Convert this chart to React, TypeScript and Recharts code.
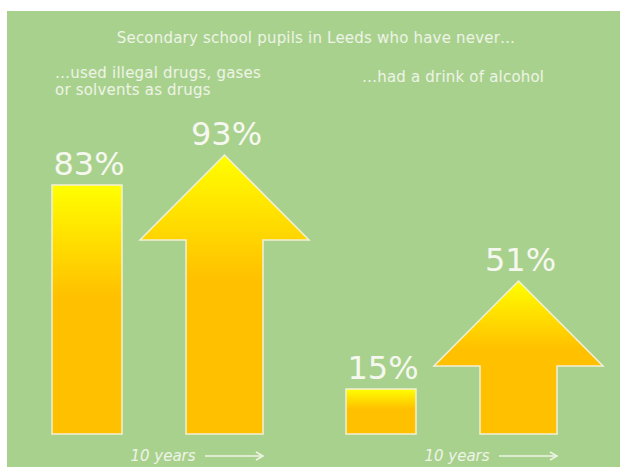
import React from "react";
import { BarChart, Bar, XAxis, YAxis, LabelList } from "recharts";

const categories = ["drugs", "alcohol"];
const beforeValues = [83, 15];
const afterValues = [93, 51];
const tickLabel = "10 years";
const chartTitle = "Secondary school pupils in Leeds who have never…";
const groupTitleDrugs = ["…used illegal drugs, gases", "or solvents as drugs"];
const groupTitleAlcohol = ["…had a drink of alcohol"];

const data = categories.map((c, i) => ({
  category: c,
  before: beforeValues[i],
  after: afterValues[i],
}));

const FONT = "'DejaVu Sans', Verdana, sans-serif";
const TEXT = "#eef4e6";
const GREEN = "#a9d18e";
const OUTLINE = "#f2f0d6";

const BarShape = (props: any) => {
  const { x, y, width, height } = props;
  return (
    <rect x={x} y={y} width={width} height={height} fill="url(#gradFill)" stroke={OUTLINE} strokeWidth={1.5} />
  );
};

const ArrowShape = (props: any) => {
  const { x, y, width, height } = props;
  const cx = x + width / 2;
  const headH = 85;
  const headHalf = 84.5;
  const shaftHalf = 38.5;
  const bottom = y + height;
  const d = `M${cx},${y} L${cx + headHalf},${y + headH} L${cx + shaftHalf},${y + headH} L${cx + shaftHalf},${bottom} L${cx - shaftHalf},${bottom} L${cx - shaftHalf},${y + headH} L${cx - headHalf},${y + headH} Z`;
  return <path d={d} fill="url(#gradFill)" stroke={OUTLINE} strokeWidth={1.5} strokeLinejoin="miter" />;
};

const renderValueLabel = (props: any) => {
  const { x, y, width, value } = props;
  return (
    <text x={x + width / 2 + 2} y={y - 10} textAnchor="middle" fontSize={32} fill="#f6f8f0" fontFamily={FONT}>
      {value}%
    </text>
  );
};

const YearsTick = (props: any) => {
  const { x } = props;
  const lineY = 456;
  const end = x + 107;
  return (
    <g>
      <line x1={x - 92} y1={lineY} x2={x - 36} y2={lineY} stroke="url(#fadeLine)" strokeWidth={1.5} />
      <text x={x + 7} y={461} textAnchor="middle" fontSize={15} fontStyle="italic" fill={TEXT} fontFamily={FONT}>
        {tickLabel}
      </text>
      <line x1={x + 49} y1={lineY} x2={end} y2={lineY} stroke={TEXT} strokeWidth={1.5} />
      <polyline points={`${end - 7},${lineY - 4} ${end},${lineY} ${end - 7},${lineY + 4}`} fill="none" stroke={TEXT} strokeWidth={1.5} />
    </g>
  );
};

export default function App() {
  return (
    <div style={{ position: "absolute", left: 0, top: 0, width: 620, height: 467, background: "#ffffff" }}>
      <div style={{ position: "absolute", left: 7, top: 11, width: 613, height: 456, background: GREEN }} />
      <div style={{ position: "absolute", left: 0, top: 0 }}>
        <BarChart
          width={620}
          height={467}
          data={data}
          margin={{ top: 134, right: 23, bottom: 0, left: 9 }}
          barSize={70}
          barGap={67.5}
        >
          <defs>
            <linearGradient id="gradFill" x1="0" y1="0" x2="0" y2="1">
              <stop offset="0" stopColor="#ffff00" />
              <stop offset="0.2" stopColor="#ffe200" />
              <stop offset="0.45" stopColor="#ffc000" />
              <stop offset="1" stopColor="#ffc000" />
            </linearGradient>
            <linearGradient id="fadeLine" x1="0" y1="0" x2="1" y2="0">
              <stop offset="0" stopColor="#ffffff" stopOpacity={0} />
              <stop offset="1" stopColor="#ffffff" stopOpacity={0.35} />
            </linearGradient>
          </defs>
          <text x={316} y={43} textAnchor="middle" fontSize={15} letterSpacing={0.2} fill={TEXT} fontFamily={FONT}>
            {chartTitle}
          </text>
          {groupTitleDrugs.map((t, i) => (
            <text key={t} x={55} y={78 + i * 17} fontSize={15} letterSpacing={0.2} fill={TEXT} fontFamily={FONT}>
              {t}
            </text>
          ))}
          {groupTitleAlcohol.map((t) => (
            <text key={t} x={362} y={82} fontSize={15} letterSpacing={0.2} fill={TEXT} fontFamily={FONT}>
              {t}
            </text>
          ))}
          <XAxis
            dataKey="category"
            axisLine={false}
            tickLine={false}
            height={33}
            interval={0}
            tick={<YearsTick />}
          />
          <YAxis hide domain={[0, 100]} />
          <Bar dataKey="before" shape={<BarShape />} isAnimationActive={false}>
            <LabelList dataKey="before" content={renderValueLabel} />
          </Bar>
          <Bar dataKey="after" shape={<ArrowShape />} isAnimationActive={false}>
            <LabelList dataKey="after" content={renderValueLabel} />
          </Bar>
        </BarChart>
      </div>
    </div>
  );
}
